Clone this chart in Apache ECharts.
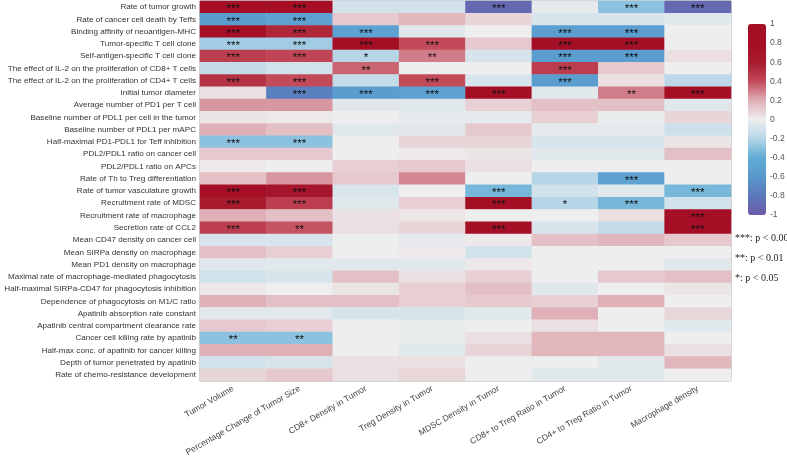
<!DOCTYPE html>
<html>
<head>
<meta charset="utf-8">
<script src="https://cdn.jsdelivr.net/npm/echarts@6/dist/echarts.min.js"></script>
<style>
  html, body { margin: 0; padding: 0; background: #fff; }
  #main { width: 787px; height: 465px; }
</style>
</head>
<body>
<div id="main"></div>
<script>
// parameters (rows, top to bottom)
var params = [
  'Rate of tumor growth',
  'Rate of cancer cell death by Teffs',
  'Binding affinity of neoantigen-MHC',
  'Tumor-specific T cell clone',
  'Self-antigen-specific T cell clone',
  'The effect of IL-2 on the proliferation of CD8+ T cells',
  'The effect of IL-2 on the proliferation of CD4+ T cells',
  'Initial tumor diameter',
  'Average number of PD1 per T cell',
  'Baseline number of PDL1 per cell in the tumor',
  'Baseline number of PDL1 per mAPC',
  'Half-maximal PD1-PDL1 for Teff inhibition',
  'PDL2/PDL1 ratio on cancer cell',
  'PDL2/PDL1 ratio on APCs',
  'Rate of Th to Treg differentiation',
  'Rate of tumor vasculature growth',
  'Recruitment rate of MDSC',
  'Recruitment rate of macrophage',
  'Secretion rate of CCL2',
  'Mean CD47 density on cancer cell',
  'Mean SIRPa density on macrophage',
  'Mean PD1 density on macrophage',
  'Maximal rate of macrophage-mediated phagocytosis',
  'Half-maximal SIRPa-CD47 for phagocytosis inhibition',
  'Dependence of phagocytosis on M1/C ratio',
  'Apatinib absorption rate constant',
  'Apatinib central compartment clearance rate',
  'Cancer cell killing rate by apatinib',
  'Half-max conc. of apatinib for cancer killing',
  'Depth of tumor penetrated by apatinib',
  'Rate of chemo-resistance development'
];

// outputs (columns)
var outputs = [
  'Tumor Volume',
  'Percentage Change of Tumor Size',
  'CD8+ Density in Tumor',
  'Treg Density in Tumor',
  'MDSC Density in Tumor',
  'CD8+ to Treg Ratio in Tumor',
  'CD4+ to Treg Ratio in Tumor',
  'Macrophage density'
];

// correlation per output column, one value per parameter row
var tumorVolume = [0.9, -0.55, 0.9, -0.25, 0.45, -0.15, 0.5, 0.05, 0.25, 0.03, 0.2, -0.3, 0.12, 0.02, 0.15, 0.9,
  0.6, 0.2, 0.45, -0.08, 0.15, -0.05, -0.1, 0.02, 0.2, -0.05, 0.12, -0.3, 0.2, -0.1, 0.08];
var pctChange = [0.9, -0.5, 0.55, -0.25, 0.42, -0.1, 0.4, -0.75, 0.25, 0.02, 0.15, -0.3, 0.12, 0, 0.25, 0.7,
  0.45, 0.15, 0.38, -0.08, 0.1, -0.05, -0.08, 0, 0.15, -0.05, 0.1, -0.3, 0.2, -0.08, 0.12];
var cd8Density = [-0.1, 0.12, -0.5, 0.9, -0.2, 0.35, -0.15, -0.55, -0.05, 0, -0.05, 0, 0, 0.1, 0.12, -0.08,
  -0.05, 0.05, 0.05, 0, 0, -0.05, 0.15, 0.03, 0.15, -0.08, 0, 0, 0, 0.05, 0.05];
var tregDensity = [-0.1, 0.18, -0.05, 0.4, 0.3, 0, 0.4, -0.5, -0.05, -0.03, -0.05, 0.08, 0.02, 0.12, 0.28, 0,
  0.1, 0.03, 0.08, -0.03, 0.02, -0.05, 0.05, 0.1, 0.1, -0.08, -0.02, -0.02, -0.05, 0.05, 0.08];
var mdscDensity = [-0.9, 0.08, 0, 0.12, -0.08, 0, -0.08, 0.9, 0.1, -0.03, 0.12, 0.08, 0.03, 0.05, 0, -0.35,
  0.9, 0, 0.9, 0.02, -0.1, 0.02, 0.1, 0.15, 0.12, -0.05, 0, 0.05, 0.08, 0, 0];
var cd8TregRatio = [-0.03, -0.08, -0.55, 0.9, -0.55, 0.45, -0.55, -0.05, 0.15, 0.1, -0.03, -0.08, -0.05, 0, -0.2, -0.1,
  -0.2, 0, -0.08, 0.15, 0, 0, 0, -0.05, 0.1, 0.2, 0.05, 0.18, 0.18, 0, -0.05];
var cd4TregRatio = [-0.3, -0.08, -0.55, 0.85, -0.55, 0.12, 0.05, 0.3, 0.15, -0.02, -0.03, -0.08, -0.05, 0, -0.5, -0.05,
  -0.35, 0.05, -0.15, 0.18, 0, 0, 0.12, 0, 0.2, 0, 0, 0.18, 0.18, -0.05, -0.05];
var macDensity = [-0.9, -0.05, 0, 0, 0.05, 0, -0.18, 0.9, -0.05, 0.08, -0.12, 0.03, 0.15, 0, 0, -0.35,
  -0.1, 0.9, 0.9, 0.12, 0, -0.05, 0.15, 0.03, 0, 0.08, -0.05, 0, 0.05, 0.18, 0];

// significance marks per output column
var sigTumorVolume = ['***', '***', '***', '***', '***', '', '***', '', '', '', '', '***', '', '', '', '***',
  '***', '', '***', '', '', '', '', '', '', '', '', '**', '', '', ''];
var sigPctChange = ['***', '***', '***', '***', '***', '', '***', '***', '', '', '', '***', '', '', '', '***',
  '***', '', '**', '', '', '', '', '', '', '', '', '**', '', '', ''];
var sigCd8Density = ['', '', '***', '***', '*', '**', '', '***', '', '', '', '', '', '', '', '',
  '', '', '', '', '', '', '', '', '', '', '', '', '', '', ''];
var sigTregDensity = ['', '', '', '***', '**', '', '***', '***', '', '', '', '', '', '', '', '',
  '', '', '', '', '', '', '', '', '', '', '', '', '', '', ''];
var sigMdscDensity = ['***', '', '', '', '', '', '', '***', '', '', '', '', '', '', '', '***',
  '***', '', '***', '', '', '', '', '', '', '', '', '', '', '', ''];
var sigCd8TregRatio = ['', '', '***', '***', '***', '***', '***', '', '', '', '', '', '', '', '', '',
  '*', '', '', '', '', '', '', '', '', '', '', '', '', '', ''];
var sigCd4TregRatio = ['***', '', '***', '***', '***', '', '', '**', '', '', '', '', '', '', '***', '',
  '***', '', '', '', '', '', '', '', '', '', '', '', '', '', ''];
var sigMacDensity = ['***', '', '', '', '', '', '', '***', '', '', '', '', '', '', '', '***',
  '', '***', '***', '', '', '', '', '', '', '', '', '', '', '', ''];

var pLegend = ['***: p < 0.005', '**: p < 0.01', '*: p < 0.05'];

var columns = [tumorVolume, pctChange, cd8Density, tregDensity, mdscDensity, cd8TregRatio, cd4TregRatio, macDensity];
var sigs = [sigTumorVolume, sigPctChange, sigCd8Density, sigTregDensity, sigMdscDensity, sigCd8TregRatio, sigCd4TregRatio, sigMacDensity];

var data = [];
for (var c = 0; c < columns.length; c++) {
  for (var r = 0; r < params.length; r++) {
    data.push({value: [c, r, columns[c][r]], sig: sigs[c][r]});
  }
}

var myChart = echarts.init(document.getElementById('main'), null, {renderer: 'canvas'});

var option = {
  backgroundColor: '#fff',
  animation: false,
  grid: [
    {left: 200, top: 1, width: 531, height: 380, show: true, borderColor: '#a6a6a6', borderWidth: 1,
      containLabel: false, outerBoundsMode: 'none'},
    {left: 748, top: 24, width: 18, height: 191, containLabel: false, outerBoundsMode: 'none'}
  ],
  xAxis: [
    {
      type: 'category', data: outputs, gridIndex: 0,
      axisLine: {show: false}, axisTick: {show: false}, splitLine: {show: false},
      axisLabel: {rotate: 30, fontSize: 8.5, color: '#444', margin: 7, interval: 0, fontFamily: 'Liberation Sans, Arial'}
    },
    {type: 'value', gridIndex: 1, show: false, min: 0, max: 1}
  ],
  yAxis: [
    {
      type: 'category', data: params, inverse: true, gridIndex: 0,
      axisLine: {show: false}, axisTick: {show: false}, splitLine: {show: false},
      axisLabel: {fontSize: 8.1, color: '#333', margin: 4, interval: 0, fontFamily: 'Liberation Sans, Arial'}
    },
    {
      type: 'value', gridIndex: 1, min: -1, max: 1, interval: 0.2, position: 'right',
      axisLine: {show: false}, splitLine: {show: false}, axisTick: {show: false},
      axisLabel: {fontSize: 8.5, color: '#555', margin: 4, fontFamily: 'Liberation Sans, Arial',
        formatter: function (v) { return String(Math.round(v * 10) / 10); }}
    }
  ],
  visualMap: {
    type: 'continuous', seriesIndex: 0, min: -1, max: 1, calculable: false,
    left: 748, top: 24, itemWidth: 18, itemHeight: 191, padding: 0,
    inRange: {color: ['#6b5aa8', '#5c78ba', '#5898cc', '#62acd6', '#b6d6e7', '#eeeeee',
      '#dfb0b8', '#c24a59', '#a81a2e', '#a50f26', '#a50f26']}
  },
  series: [
    {
      type: 'heatmap', xAxisIndex: 0, yAxisIndex: 0, data: data,
      label: {
        show: true, fontSize: 11.5, color: '#111', fontFamily: 'Liberation Sans, Arial', offset: [0, 2],
        formatter: function (p) { return p.data.sig; }
      },
      itemStyle: {borderWidth: 0}
    },
    {type: 'scatter', xAxisIndex: 1, yAxisIndex: 1, data: [], silent: true}
  ],
  graphic: pLegend.map(function (t, i) {
    return {
      type: 'text', left: 735, top: 233 + i * 20,
      style: {text: t, fontSize: 10, fill: '#222', fontFamily: 'Liberation Serif, Times New Roman, serif'}
    };
  })
};

myChart.setOption(option);
</script>
</body>
</html>
